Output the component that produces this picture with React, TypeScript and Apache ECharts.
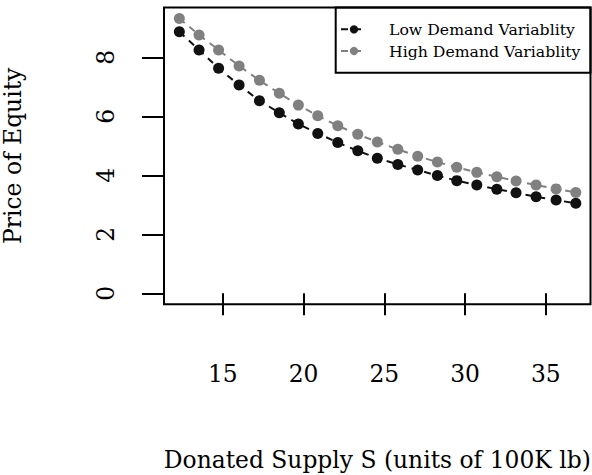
import React, { useEffect, useRef } from "react";
import * as echarts from "echarts";

const supply = [12.31, 13.53, 14.74, 16.01, 17.27, 18.5, 19.68, 20.88, 22.12, 23.36, 24.57, 25.84, 27.07, 28.29, 29.49, 30.73, 31.97, 33.16, 34.4, 35.64, 36.86];
const lowDemand = [8.87, 8.25, 7.63, 7.06, 6.53, 6.12, 5.74, 5.42, 5.11, 4.83, 4.58, 4.37, 4.18, 3.99, 3.82, 3.67, 3.53, 3.41, 3.27, 3.16, 3.05];
const highDemand = [9.32, 8.76, 8.25, 7.71, 7.22, 6.78, 6.38, 6.02, 5.68, 5.39, 5.13, 4.88, 4.65, 4.45, 4.27, 4.1, 3.95, 3.81, 3.67, 3.54, 3.42];
const xTicks = [15, 20, 25, 30, 35];
const yTicks = [0, 2, 4, 6, 8];
const seriesNames = ["Low Demand Variablity", "High Demand Variablity"];
const xTitle = "Donated Supply S (units of 100K lb)";
const yTitle = "Price of Equity";

const FONT = "'DejaVu Serif', serif";
const BLACK = "#111111";
const GRAY = "#808080";

export default function App() {
  const ref = useRef<HTMLDivElement>(null);
  useEffect(() => {
    if (!ref.current) return;
    const chart = echarts.init(ref.current, null, { renderer: "svg" });
    const mk = (vals: number[]) => supply.map((x, i) => [x, vals[i]]);
    chart.setOption({
      animation: false,
      backgroundColor: "#ffffff",
      grid: {
        left: 164,
        top: 7.4,
        right: 1.5,
        bottom: 170.7,
        show: true,
        borderColor: "#000",
        borderWidth: 2,
        backgroundColor: "transparent",
      },
      xAxis: {
        type: "value",
        min: 11.36,
        max: 37.77,
        axisLine: { show: false },
        splitLine: { show: false },
        axisTick: {
          show: true,
          length: 22,
          inside: false,
          customValues: xTicks,
          lineStyle: { color: "#000", width: 2 },
        },
        axisLabel: {
          customValues: xTicks,
          margin: 58,
          fontFamily: FONT,
          fontSize: 23.4,
          color: "#000",
        },
      },
      yAxis: {
        type: "value",
        min: -0.373,
        max: 9.693,
        axisLine: { show: false },
        splitLine: { show: false },
        axisTick: {
          show: true,
          length: 22,
          inside: false,
          customValues: yTicks,
          lineStyle: { color: "#000", width: 2 },
        },
        axisLabel: {
          customValues: yTicks,
          rotate: 90,
          margin: 47,
          fontFamily: FONT,
          fontSize: 23.4,
          color: "#000",
        },
      },
      legend: {
        orient: "vertical",
        left: 335,
        top: 16.3,
        itemWidth: 26,
        itemHeight: 10.4,
        itemGap: 5.7,
        data: seriesNames,
        textStyle: {
          fontFamily: FONT,
          fontSize: 15.7,
          color: "#000",
          padding: [0, 0, 0, 17],
        },
      },
      graphic: [
        {
          type: "rect",
          shape: { x: 335.7, y: 7.4, width: 254.8, height: 65.3 },
          style: { fill: "none", stroke: "#000", lineWidth: 2 },
          silent: true,
          z: 10,
        },
        {
          type: "text",
          x: 377.3,
          y: 460,
          style: {
            text: xTitle,
            fontFamily: FONT,
            fontSize: 23.4,
            fill: "#000",
            textAlign: "center",
            textVerticalAlign: "middle",
          },
        },
        {
          type: "text",
          x: 12.5,
          y: 155.8,
          rotation: Math.PI / 2,
          style: {
            text: yTitle,
            fontFamily: FONT,
            fontSize: 23.4,
            fill: "#000",
            textAlign: "center",
            textVerticalAlign: "middle",
          },
        },
      ],
      series: [
        {
          type: "line",
          name: seriesNames[0],
          data: mk(lowDemand),
          symbol: "circle",
          symbolSize: 11,
          lineStyle: { color: BLACK, width: 2, type: [7, 6] },
          itemStyle: { color: BLACK },
        },
        {
          type: "line",
          name: seriesNames[1],
          data: mk(highDemand),
          symbol: "circle",
          symbolSize: 11,
          lineStyle: { color: GRAY, width: 2, type: [7, 6] },
          itemStyle: { color: GRAY },
        },
      ],
    });
    return () => chart.dispose();
  }, []);
  return (
    <div
      ref={ref}
      style={{ position: "fixed", left: 0, top: 0, width: 592, height: 475 }}
    />
  );
}
